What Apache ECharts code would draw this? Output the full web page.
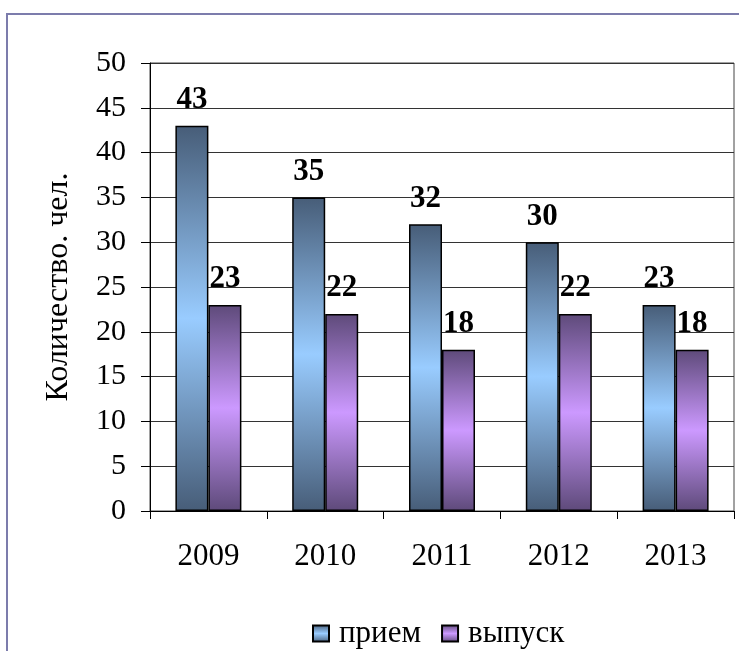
<!DOCTYPE html>
<html><head><meta charset="utf-8">
<script src="https://cdn.jsdelivr.net/npm/echarts@6/dist/echarts.min.js"></script>
<style>html,body{margin:0;padding:0;background:#fff}#c{width:739px;height:651px}</style>
</head><body><div id="c"></div>
<script>
const categories = ['2009','2010','2011','2012','2013'];
const priem = [43,35,32,30,23];
const vypusk = [23,22,18,22,18];
const seriesNames = ['прием','выпуск'];
const yAxisName = 'Количество. чел.';

const font = 'Times New Roman, Liberation Serif, serif';
function grad(dark, light){
  return new echarts.graphic.LinearGradient(0,0,0,1,[
    {offset:0,color:dark},{offset:0.5,color:light},{offset:1,color:dark}]);
}
const chart = echarts.init(document.getElementById('c'));
chart.setOption({
  animation:false,
  backgroundColor:'#fff',
  graphic:[{type:'rect',shape:{x:7,y:14,width:800,height:700},style:{fill:'none',stroke:'#7c7cac',lineWidth:2},silent:true}],
  grid:{left:150,right:5,top:63,bottom:140,show:true,borderColor:'#444',borderWidth:1},
  legend:{left:307,top:613,itemWidth:16,itemHeight:16,itemGap:20,icon:'rect',
    textStyle:{fontFamily:font,fontSize:31,color:'#000',padding:[0,0,0,5]},
    data:seriesNames},
  xAxis:{type:'category',data:categories,
    axisLine:{lineStyle:{color:'#000',width:1}},
    axisTick:{show:true,length:8,lineStyle:{color:'#000'}},
    axisLabel:{color:'#000',fontFamily:font,fontSize:31,margin:30}},
  yAxis:{type:'value',min:0,max:50,interval:5,
    name:yAxisName,nameLocation:'middle',nameGap:75,
    nameTextStyle:{color:'#000',fontFamily:font,fontSize:32},
    axisLine:{show:true,lineStyle:{color:'#000',width:1}},
    axisTick:{show:true,length:9,inside:false,lineStyle:{color:'#000'}},
    axisLabel:{color:'#000',fontFamily:font,fontSize:30,margin:24},
    splitLine:{lineStyle:{color:'#333',width:1}}},
  series:[
    {name:seriesNames[0],type:'bar',data:priem,barWidth:33,barGap:'0%',
     itemStyle:{color:grad('#475d78','#99ccff'),borderColor:'#000',borderWidth:1.5},
     label:{show:true,position:'top',distance:10,color:'#000',fontFamily:font,fontWeight:'bold',fontSize:31}},
    {name:seriesNames[1],type:'bar',data:vypusk,barWidth:33,barGap:'0%',
     itemStyle:{color:grad('#5e4a7a','#cc99ff'),borderColor:'#000',borderWidth:1.5},
     label:{show:true,position:'top',distance:10,color:'#000',fontFamily:font,fontWeight:'bold',fontSize:31}}
  ]
});
</script></body></html>
